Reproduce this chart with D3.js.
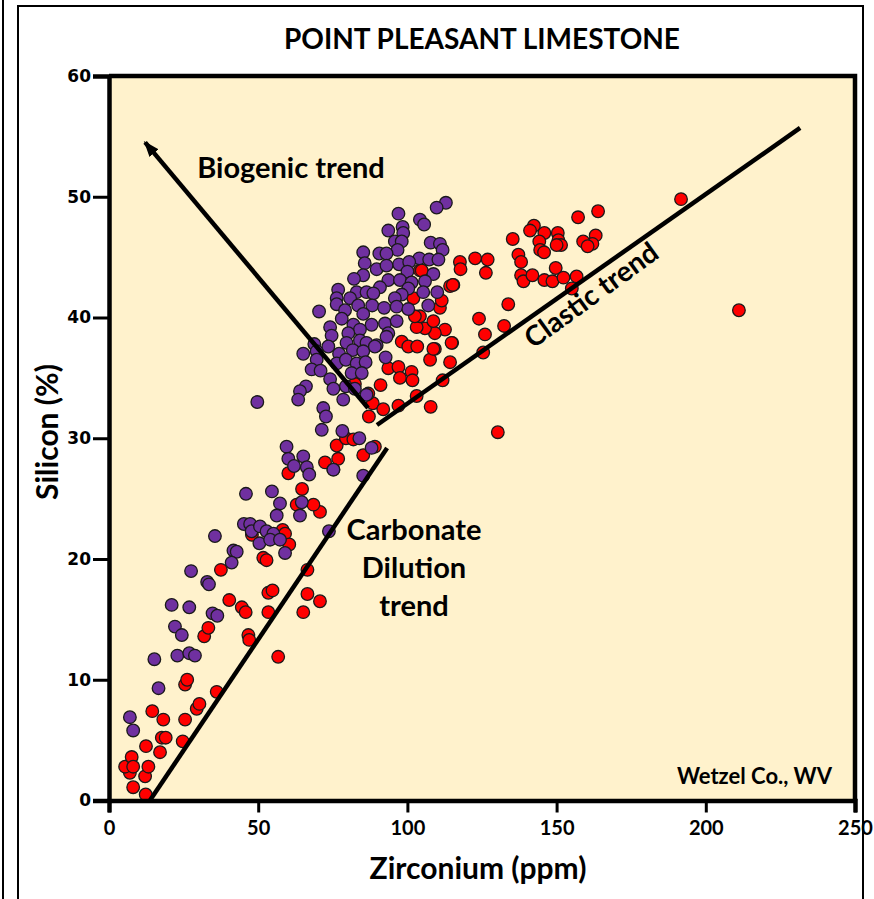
<!DOCTYPE html>
<html>
<head>
<meta charset="utf-8">
<script src="https://cdn.jsdelivr.net/npm/d3@7"></script>
<style>
  html, body { margin: 0; padding: 0; background: #ffffff; }
  svg { display: block; }
  text { font-family: Lato, "Open Sans", sans-serif; font-weight: 700; fill: #000; }
</style>
</head>
<body>
<svg id="chart" width="874" height="899"></svg>
<script>
// Zirconium (ppm) vs Silicon (%) for two sample groups
const redZr = [
  12.3, 8.1, 7.0, 5.4, 7.6, 8.1, 12.1, 13.2, 12.4, 17.1, 17.7, 19.0, 14.5, 18.2, 24.7, 25.5,
  29.4, 30.3, 36.1, 25.5, 26.2, 46.7, 47.0, 31.9, 33.3, 40.3, 44.5, 45.8, 53.4, 53.4, 54.8, 56.7,
  65.1, 66.5, 70.7, 66.5, 37.5, 51.7, 52.8, 58.2, 59.0, 60.4, 47.9, 70.7, 68.5, 62.9, 64.7,
  60.1, 72.4, 76.8, 75.2, 76.3, 79.4, 81.9, 85.2, 89.1, 87.1, 88.4, 91.9, 91.0, 97.0, 103.1,
  107.8, 111.8, 93.6, 97.0, 97.5, 101.4, 101.7, 98.1, 100.3, 103.3, 107.6, 109.2, 114.3, 115.0,
  112.6, 109.2, 105.9, 103.1, 104.2, 108.7, 110.9, 111.5, 114.3, 115.4, 102.0, 104.2, 117.6,
  117.8, 122.7, 86.9, 82.4, 104.8, 102.5, 114.8, 108.7,
  191.7, 211.1, 130.3, 157.2, 163.9, 163.1, 162.0, 158.9, 160.4, 142.4, 141.1, 145.9, 150.4,
  150.6, 151.5, 150.0, 144.2, 144.5, 145.8, 135.3, 137.2, 138.1, 138.1, 138.9, 141.9, 145.9,
  148.6, 149.7, 152.3, 156.7, 155.1, 133.8, 132.4, 124.0, 126.0, 125.4, 126.9, 126.3, 115.2
];
const redSi = [
  0.5, 1.1, 2.3, 2.8, 3.6, 2.8, 2.0, 2.8, 4.5, 4.0, 5.2, 5.2, 7.4, 6.7, 4.9, 6.7,
  7.6, 8.0, 9.0, 9.6, 10.0, 13.7, 13.3, 13.6, 14.3, 16.6, 16.0, 15.6, 15.6, 17.2, 17.4, 11.9,
  15.6, 17.1, 16.5, 19.1, 19.1, 20.1, 19.9, 22.4, 22.1, 21.2, 22.0, 23.9, 24.5, 24.5, 25.8,
  27.1, 28.0, 28.3, 27.4, 29.4, 30.0, 29.9, 28.6, 29.3, 31.8, 32.9, 32.4, 34.4, 32.7, 33.5,
  32.6, 34.8, 35.8, 35.9, 35.0, 35.5, 34.8, 38.0, 37.6, 37.6, 36.5, 37.4, 36.3, 37.9,
  39.0, 38.7, 39.1, 39.2, 40.1, 39.7, 40.8, 41.4, 42.6, 42.7, 41.6, 43.9, 44.6,
  44.0, 44.9, 33.7, 34.5, 43.9, 40.1, 37.9, 37.4,
  49.8, 40.6, 30.5, 48.3, 48.8, 46.8, 46.1, 46.3, 45.9, 47.6, 47.2, 47.0, 47.0,
  46.4, 46.0, 46.0, 46.3, 45.6, 45.4, 46.5, 45.2, 44.6, 43.5, 43.0, 43.5, 43.1,
  43.0, 44.1, 43.3, 43.4, 42.4, 41.1, 39.3, 39.9, 38.6, 37.1, 44.8, 43.7, 42.7
];
const purpleZr = [
  112.9, 109.8, 97.0, 104.2, 105.6, 98.4, 93.6, 98.6, 95.8, 98.1, 107.8, 110.9, 111.8, 96.7,
  85.2, 90.6, 93.0, 104.0, 107.3, 110.4, 97.2, 100.6, 85.7, 89.7, 93.0, 100.0, 108.7, 85.2,
  82.1, 93.6, 97.5, 101.4, 105.9, 90.8, 76.8, 83.0, 86.3, 88.6, 100.3, 105.3, 110.0, 98.1,
  95.8, 76.3, 80.8, 76.3, 83.5, 88.2, 92.2, 96.4, 100.3, 107.0, 70.4, 79.1, 85.2, 78.0, 81.9,
  88.0, 92.5, 96.4, 74.1, 84.1, 93.6, 80.2, 74.6, 79.6, 84.1, 86.3, 89.7, 93.0, 73.5, 68.8,
  65.1, 69.6, 77.1, 81.7, 85.2, 89.1, 69.6, 76.3, 79.4, 83.0, 86.0, 92.7, 67.9, 70.9, 81.3,
  84.7, 74.1, 79.4, 82.4, 75.2, 66.0, 64.0, 63.4, 78.5, 86.3, 71.8, 72.7, 71.3, 49.7, 78.2,
  83.9, 88.0, 59.5, 60.1, 65.1, 62.0, 66.3, 67.1, 75.2, 85.2,
  57.3, 56.2, 64.6, 64.0, 45.2, 47.3, 47.8, 50.6, 52.8, 55.1, 50.4, 54.0, 57.3, 59.0, 73.7,
  35.5, 41.7, 42.8, 41.1, 27.5, 32.9, 33.5, 21.0, 26.9, 34.7, 36.3, 22.1, 24.4, 15.2, 22.9,
  26.9, 28.8, 16.6, 7.0, 8.1, 45.9, 54.6
];
const purpleSi = [
  49.5, 49.1, 48.6, 48.1, 47.7, 47.5, 47.2, 47.0, 46.3, 46.3, 46.2, 46.1, 45.6, 45.6,
  45.4, 45.3, 45.3, 44.9, 44.8, 44.8, 44.4, 44.6, 44.5, 44.0, 44.3, 43.8, 43.6, 43.5,
  43.2, 43.1, 43.1, 42.9, 43.0, 42.5, 42.3, 42.1, 42.1, 42.0, 42.4, 42.1, 42.1, 41.9,
  41.6, 41.6, 41.6, 41.1, 41.0, 41.0, 40.8, 40.9, 40.7, 41.0, 40.5, 40.6, 40.3, 39.9, 39.4,
  39.4, 39.5, 39.7, 39.2, 39.0, 38.7, 38.7, 38.5, 37.9, 38.1, 37.9, 37.7, 38.4, 37.6, 37.8,
  37.0, 37.2, 37.0, 37.3, 37.2, 37.6, 36.5, 36.2, 36.5, 36.2, 36.3, 36.7, 35.7, 35.6, 35.4,
  35.4, 34.9, 34.3, 34.1, 34.1, 34.3, 33.9, 33.2, 33.2, 33.6, 32.5, 31.8, 30.7, 33.0, 30.6,
  30.0, 29.2, 29.3, 28.3, 28.5, 27.7, 27.6, 27.0, 27.4, 26.9,
  24.6, 23.6, 24.7, 23.6, 22.9, 22.9, 22.3, 22.7, 22.3, 22.1, 21.3, 21.6, 21.6, 20.5, 22.3,
  21.9, 20.7, 20.6, 19.7, 19.0, 18.1, 17.9, 16.2, 16.0, 15.5, 15.3, 14.4, 13.7, 11.7, 12.0,
  12.2, 12.0, 9.3, 6.9, 5.8, 25.4, 25.6
];

// Axis ticks
const xTicks = [0, 50, 100, 150, 200, 250];
const yTicks = [0, 10, 20, 30, 40, 50, 60];

// Trend lines: [Zr start, Si start, Zr end, Si end]
const clasticTrend = [89.8, 31.1, 231.6, 55.7];
const carbonateTrend = [13.7, 0.0, 93.2, 29.2];
const biogenicTrend = [86.8, 32.5, 12.1, 54.5];

const svg = d3.select("#chart");

// outer framing
svg.append("line").attr("x1", 3).attr("x2", 3).attr("y1", 0).attr("y2", 899)
  .attr("stroke", "#000").attr("stroke-width", 2);
svg.append("rect").attr("x", 18).attr("y", 6).attr("width", 845).attr("height", 1000)
  .attr("fill", "#fff").attr("stroke", "#000").attr("stroke-width", 2);

const x = d3.scaleLinear().domain([0, 250]).range([109, 855]);
const y = d3.scaleLinear().domain([0, 60]).range([800.5, 76]);

// plot background
svg.append("rect")
  .attr("x", x(0)).attr("y", y(60))
  .attr("width", x(250) - x(0)).attr("height", y(0) - y(60))
  .attr("fill", "#FFF2CC");

// points
const red = redZr.map((v, i) => ({ zr: v, si: redSi[i] }));
const purple = purpleZr.map((v, i) => ({ zr: v, si: purpleSi[i] }));

const dots = svg.append("g");
dots.selectAll("circle.red").data(red).join("circle")
  .attr("class", "red")
  .attr("cx", d => x(d.zr)).attr("cy", d => y(d.si)).attr("r", 6.3)
  .attr("fill", "#FF0000").attr("stroke", "#1a1a1a").attr("stroke-width", 1.3);
dots.selectAll("circle.purple").data(purple).join("circle")
  .attr("class", "purple")
  .attr("cx", d => x(d.zr)).attr("cy", d => y(d.si)).attr("r", 6.3)
  .attr("fill", "#7030A0").attr("stroke", "#1a1a1a").attr("stroke-width", 1.3);

// trend lines
const defs = svg.append("defs");
defs.append("marker").attr("id", "arrow")
  .attr("markerUnits", "userSpaceOnUse")
  .attr("viewBox", "0 0 16 12").attr("refX", 14).attr("refY", 6)
  .attr("markerWidth", 16).attr("markerHeight", 12)
  .attr("orient", "auto")
  .append("path").attr("d", "M0,0 L16,6 L0,12 Z").attr("fill", "#000");

function trend(t, arrow) {
  const l = svg.append("line")
    .attr("x1", x(t[0])).attr("y1", y(t[1]))
    .attr("x2", x(t[2])).attr("y2", y(t[3]))
    .attr("stroke", "#000").attr("stroke-width", 4.5);
  if (arrow) l.attr("marker-end", "url(#arrow)");
}
trend(clasticTrend, false);
trend(carbonateTrend, false);
trend(biogenicTrend, true);

// plot frame (top and right)
svg.append("path")
  .attr("d", `M${x(0)},${y(60)} H${x(250)} V${y(0)}`)
  .attr("fill", "none").attr("stroke", "#000").attr("stroke-width", 4.5);

// axes
const xAxis = svg.append("g").attr("transform", `translate(0,${y(0)})`)
  .call(d3.axisBottom(x).tickValues(xTicks).tickSize(12).tickPadding(8).tickFormat(d3.format("d")));
const yAxis = svg.append("g").attr("transform", `translate(${x(0)},0)`)
  .call(d3.axisLeft(y).tickValues(yTicks).tickSize(16).tickPadding(2).tickFormat(d3.format("d")));

[xAxis, yAxis].forEach(g => {
  g.select(".domain").attr("stroke", "#000").attr("stroke-width", 4.5);
  g.selectAll(".tick line").attr("stroke", "#000").attr("stroke-width", 3);
});
xAxis.selectAll(".tick text")
  .style("font-family", "Lato, sans-serif").style("font-weight", 700)
  .style("font-size", "20px").attr("fill", "#000");
yAxis.selectAll(".tick text")
  .style("font-family", "'DejaVu Sans', Verdana, sans-serif").style("font-weight", 700)
  .style("font-size", "17px").attr("fill", "#000");

// titles and labels
svg.append("text").attr("x", 482).attr("y", 49).attr("text-anchor", "middle")
  .style("font-size", "28px").text("POINT PLEASANT LIMESTONE");
svg.append("text").attr("x", 478).attr("y", 879).attr("text-anchor", "middle")
  .style("font-size", "30px").text("Zirconium (ppm)");
svg.append("text").attr("transform", "translate(58,432) rotate(-90)").attr("text-anchor", "middle")
  .style("font-size", "30px").text("Silicon (%)");

// annotations
svg.append("text").attr("x", 291).attr("y", 178).attr("text-anchor", "middle")
  .style("font-size", "29px").text("Biogenic trend");
svg.append("text").attr("transform", "translate(597,303) rotate(-36)").attr("text-anchor", "middle")
  .style("font-size", "28px").text("Clastic trend");
["Carbonate", "Dilution", "trend"].forEach((s, i) => {
  svg.append("text").attr("x", 414).attr("y", 540 + i * 38).attr("text-anchor", "middle")
    .style("font-size", "29px").text(s);
});
svg.append("text").attr("x", 832).attr("y", 784).attr("text-anchor", "end")
  .style("font-size", "22px").text("Wetzel Co., WV");
</script>
</body>
</html>
